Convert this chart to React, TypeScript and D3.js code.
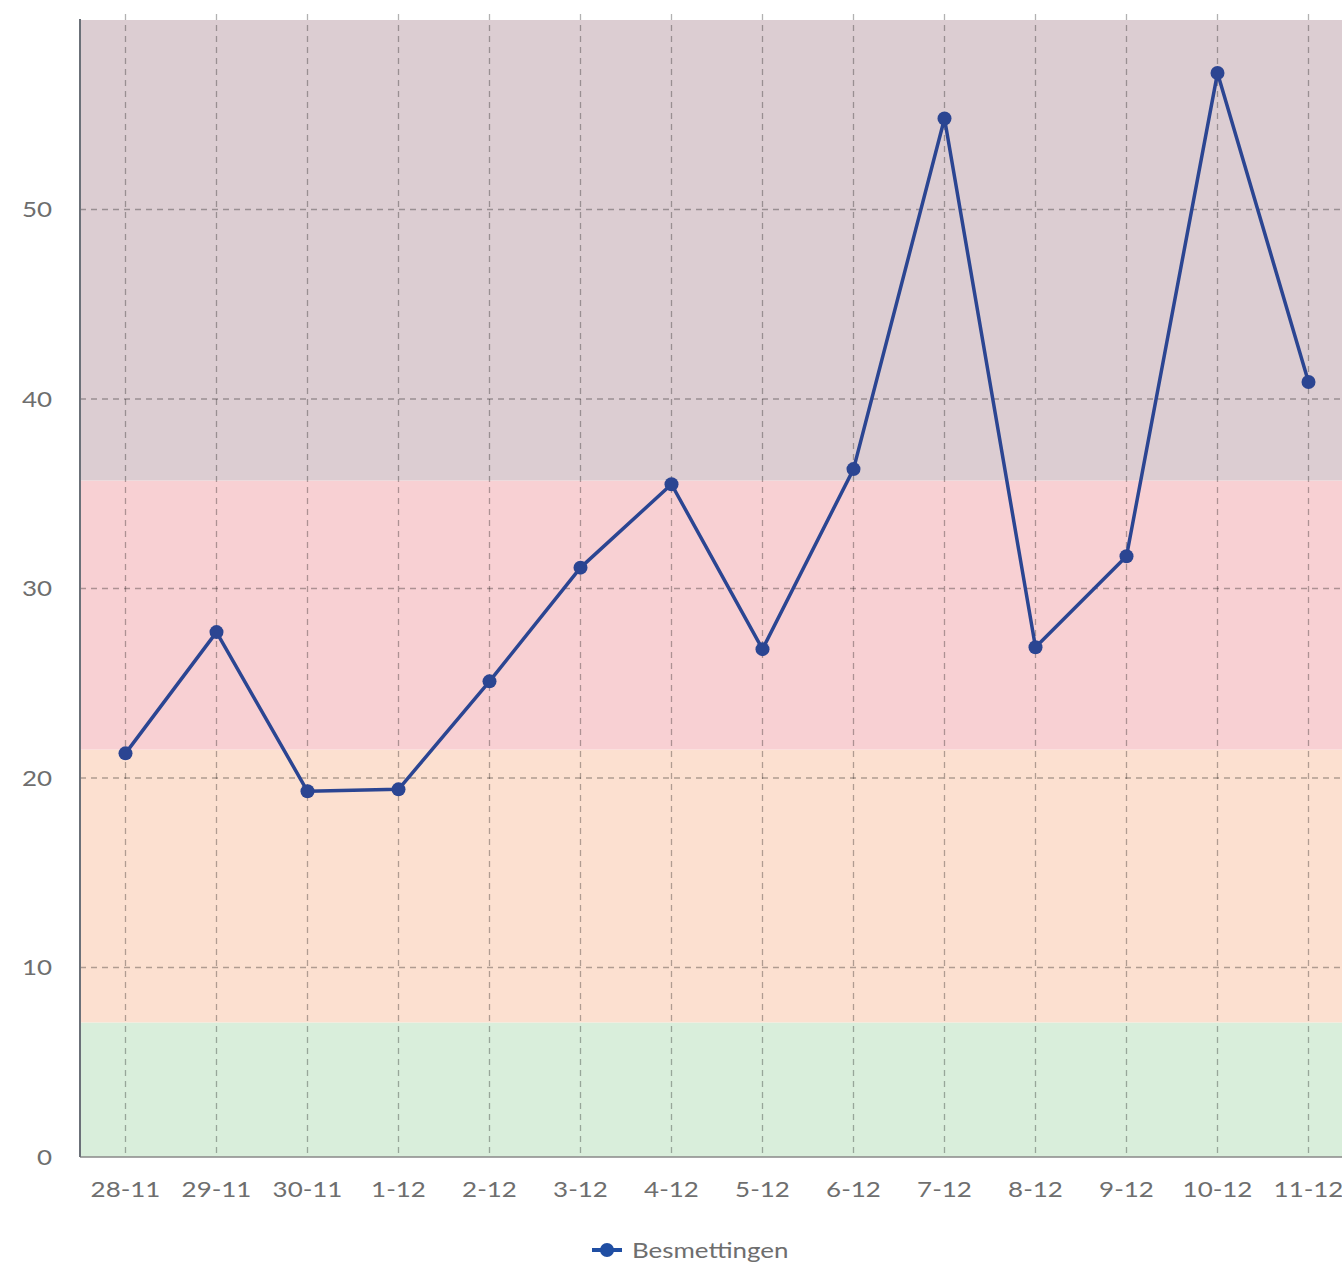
import React from "react";
import * as d3 from "d3";

const categories = ["28-11", "29-11", "30-11", "1-12", "2-12", "3-12", "4-12", "5-12", "6-12", "7-12", "8-12", "9-12", "10-12", "11-12"];
const values = [21.3, 27.7, 19.3, 19.4, 25.1, 31.1, 35.5, 26.8, 36.3, 54.8, 26.9, 31.7, 57.2, 40.9];
const yTicks = [0, 10, 20, 30, 40, 50];
const bandStops = [0, 7.1, 21.5, 35.7, 60];
const bandColors = ["#d9eedb", "#fce0d0", "#f8d0d3", "#dccdd2"];
const seriesName = "Besmettingen";

const SX = 1.18;

function T({ x, y, anchor, children }: { x: number; y: number; anchor: string; children: any }) {
  return (
    <text transform={`translate(${x},${y}) scale(${SX},1)`} dy="0.35em" textAnchor={anchor} fontSize={22} fill="#6e6e6e">
      {children}
    </text>
  );
}

export default function App() {
  const left = 80, top = 20, bottom = 1157;
  const step = 91;
  const right = left + step * categories.length;
  const x = d3.scalePoint<string>().domain(categories).range([left + step / 2, right - step / 2]);
  const y = d3.scaleLinear().domain([0, 60]).range([bottom, top]);
  const line = d3.line<number>().x((_, i) => x(categories[i])!).y((d) => y(d));
  const font = "Lato, 'Open Sans', sans-serif";
  const lineColor = "#2b4592";
  return (
    <div style={{ position: "fixed", left: 0, top: 0, width: 1342, height: 1263, overflow: "hidden", background: "#fff" }}>
      <svg width={1400} height={1263} style={{ display: "block" }} fontFamily={font}>
        {bandColors.map((c, i) => (
          <rect key={i} x={left} width={right - left} y={y(bandStops[i + 1])} height={y(bandStops[i]) - y(bandStops[i + 1])} fill={c} />
        ))}
        {yTicks.filter((t) => t > 0).map((t) => (
          <line key={t} x1={left} x2={right} y1={y(t)} y2={y(t)} stroke="#000" strokeOpacity={0.3} strokeWidth={1.3} strokeDasharray="6,5" />
        ))}
        {categories.map((c) => (
          <line key={c} x1={x(c)} x2={x(c)} y1={top - 6} y2={bottom} stroke="#000" strokeOpacity={0.3} strokeWidth={1.3} strokeDasharray="6,5" />
        ))}
        <line x1={left} x2={right} y1={bottom} y2={bottom} stroke="#888" strokeWidth={1.5} />
        <line x1={left} x2={left} y1={top - 1} y2={bottom} stroke="#6b7078" strokeWidth={2} />
        {yTicks.map((t) => (
          <T key={t} x={52} y={y(t)} anchor="end">{t}</T>
        ))}
        {categories.map((c) => (
          <T key={c} x={x(c)!} y={1189} anchor="middle">{c}</T>
        ))}
        <path d={line(values) || ""} fill="none" stroke={lineColor} strokeWidth={3.5} strokeLinejoin="round" />
        {values.map((v, i) => (
          <circle key={i} cx={x(categories[i])} cy={y(v)} r={7} fill={lineColor} />
        ))}
        <g>
          <line x1={592} x2={622} y1={1250} y2={1250} stroke="#1f4ea3" strokeWidth={4} />
          <circle cx={607} cy={1250} r={7} fill="#1f4ea3" />
          <T x={632} y={1250} anchor="start">{seriesName}</T>
        </g>
      </svg>
    </div>
  );
}
